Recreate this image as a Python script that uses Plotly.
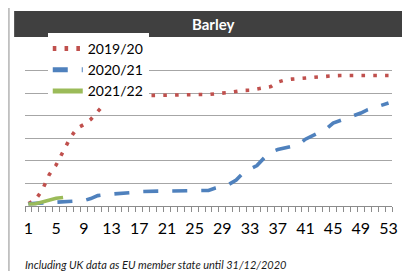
import plotly.graph_objects as go

# ---- data (grid units x1000) ----
weeks = list(range(1, 54))
tick_weeks = list(range(1, 54, 4))
tick_labels = [str(w) for w in tick_weeks]

season_names = ["2019/20", "2020/21", "2021/22"]

barley_2019_20 = [110, 270, 710, 1390, 1820, 2420, 3000, 3440, 3610, 3840,
                  4160, 4530, 4760, 4830, 4860, 4880, 4890, 4900, 4910, 4910,
                  4910, 4910, 4910, 4930, 4940, 4940, 4940, 4950, 5000, 5030,
                  5090, 5120, 5130, 5190, 5230, 5290, 5490, 5580, 5620, 5650,
                  5680, 5700, 5710, 5750, 5770, 5780, 5780, 5780, 5780, 5780,
                  5780, 5780, 5780]
barley_2020_21 = [100, 120, 140, 170, 190, 190, 200, 210, 240, 330,
                  460, 500, 520, 520, 550, 600, 640, 660, 660, 660,
                  660, 660, 680, 690, 690, 690, 690, 800, 880, 970,
                  1150, 1460, 1640, 1790, 2120, 2390, 2500, 2570, 2650, 2720,
                  2960, 3100, 3230, 3410, 3670, 3780, 3870, 3980, 4120, 4270,
                  4380, 4470, 4560]
barley_2021_22 = [90, 100, 180, 270, 340, 380]

colors = ["#C0504D", "#4F81BD", "#9BBB59"]
FONT = "Lato"

fig = go.Figure()
fig.add_trace(go.Scatter(x=weeks, y=barley_2019_20, mode="lines", name=season_names[0],
                         line=dict(color=colors[0], width=3.6, dash="3.6px,8.2px")))
fig.add_trace(go.Scatter(x=weeks, y=barley_2020_21, mode="lines", name=season_names[1],
                         line=dict(color=colors[1], width=3.6, dash="15px,14px")))
fig.add_trace(go.Scatter(x=weeks[:len(barley_2021_22)], y=barley_2021_22, mode="lines",
                         name=season_names[2], line=dict(color=colors[2], width=3.6)))

# outer chart border
fig.add_shape(type="rect", xref="paper", yref="paper", x0=-0.0438, x1=1.2,
              y0=-0.6, y1=1.2658, line=dict(color="#b4b4b4", width=1.5),
              fillcolor="rgba(0,0,0,0)", layer="below")
# title bar
fig.add_shape(type="rect", xref="paper", yref="paper", x0=-0.0296, x1=1.054,
              y0=1.0696, y1=1.234, line=dict(width=0), fillcolor="#404040", layer="below")
fig.add_annotation(text="<b>Barley</b>", xref="paper", yref="paper", x=0.512, y=1.152,
                   xanchor="center", yanchor="middle", showarrow=False,
                   font=dict(family=FONT, size=15, color="white"))
fig.add_annotation(text="<i>Including UK data as EU member state until 31/12/2020</i>",
                   xref="paper", yref="paper", x=-0.0054, y=-0.373, xanchor="left",
                   yanchor="middle", showarrow=False,
                   font=dict(family=FONT, size=11, color="#1a1a1a"))

fig.update_layout(
    width=402, height=263,
    margin=dict(l=17, r=14, t=40, b=65, pad=0),
    paper_bgcolor="white", plot_bgcolor="white",
    font=dict(family=FONT, size=16, color="black"),
    showlegend=True,
    legend=dict(x=0.062, y=1.095, xanchor="left", yanchor="top",
                bgcolor="white", borderwidth=0, font=dict(family=FONT, size=14),
                tracegroupgap=0, itemsizing="constant"),
    xaxis=dict(range=[0.5, 53.5], tickmode="array", tickvals=tick_weeks,
               ticktext=tick_labels, ticks="", showgrid=False, zeroline=False,
               showline=True, linecolor="#8c8c8c", linewidth=1.2,
               ticklabelstandoff=8,
               tickfont=dict(family=FONT, size=16, color="black"),
               minor=dict(tickmode="linear", tick0=0.5, dtick=1, ticks="outside",
                          ticklen=5, tickwidth=1.2, tickcolor="#8c8c8c", showgrid=False)),
    yaxis=dict(range=[0, 7000], dtick=1000, showgrid=True, gridcolor="#a6a6a6",
               gridwidth=1.3, showticklabels=False, zeroline=False, showline=False,
               ticks=""),
)

fig.write_html("out.html")
